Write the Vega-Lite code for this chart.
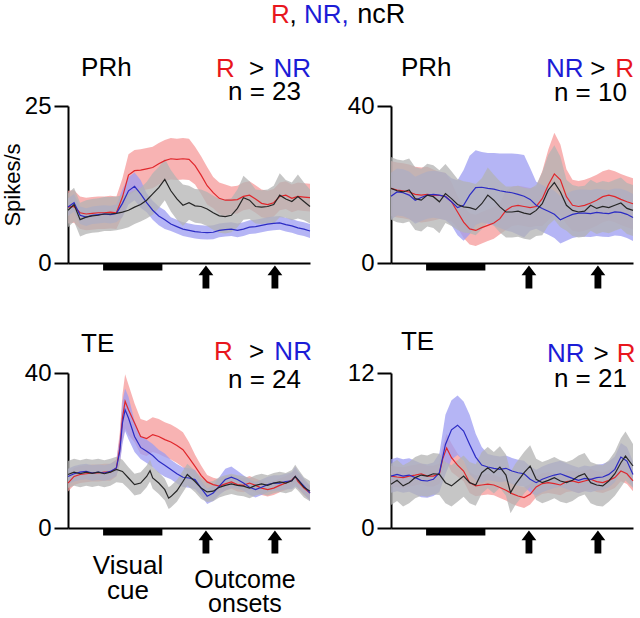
{
"$schema":"https://vega.github.io/schema/vega-lite/v6.json",
"padding":{"left":1,"top":1,"right":0,"bottom":0},
"config":{"view":{"stroke":null},"font":"Liberation Sans",
"axis":{"domainColor":"black","domainWidth":2,"tickColor":"black","tickWidth":2,"labelColor":"black","labelFont":"Liberation Sans","labelFontSize":24,"titleFont":"Liberation Sans","titleFontSize":22,"titleFontWeight":"normal","titleColor":"black","grid":false}},
"datasets":{
"events":[{"kind":"cue","start":14.5,"end":39},{"kind":"outcome","start":57},{"kind":"outcome","start":85.5}],
"TL":[
{"s":"R","t":0,"m":8.9,"e":2.6},{"s":"R","t":2.5,"m":9.0,"e":2.6},{"s":"R","t":5,"m":8.0,"e":2.6},{"s":"R","t":7.5,"m":7.8,"e":2.6},{"s":"R","t":10,"m":7.9,"e":2.6},{"s":"R","t":12.5,"m":8.0,"e":2.6},{"s":"R","t":15,"m":8.0,"e":2.6},{"s":"R","t":17.5,"m":8.1,"e":2.6},{"s":"R","t":20,"m":8.0,"e":2.6},{"s":"R","t":22.5,"m":10.5,"e":3.0},{"s":"R","t":25,"m":14.0,"e":3.3},{"s":"R","t":27.5,"m":14.7,"e":3.3},{"s":"R","t":30,"m":14.8,"e":3.3},{"s":"R","t":32.5,"m":15.0,"e":3.3},{"s":"R","t":35,"m":15.2,"e":3.3},{"s":"R","t":37.5,"m":15.8,"e":3.3},{"s":"R","t":40,"m":16.3,"e":3.3},{"s":"R","t":42.5,"m":16.6,"e":3.3},{"s":"R","t":45,"m":16.5,"e":3.3},{"s":"R","t":47.5,"m":16.6,"e":3.3},{"s":"R","t":50,"m":16.5,"e":3.3},{"s":"R","t":52.5,"m":15.5,"e":3.0},{"s":"R","t":55,"m":14.0,"e":3.0},{"s":"R","t":57.5,"m":12.3,"e":3.0},{"s":"R","t":60,"m":11.2,"e":2.5},{"s":"R","t":62.5,"m":10.3,"e":2.5},{"s":"R","t":65,"m":10.0,"e":2.5},{"s":"R","t":67.5,"m":10.0,"e":2.2},{"s":"R","t":70,"m":10.1,"e":2.2},{"s":"R","t":72.5,"m":10.6,"e":2.2},{"s":"R","t":75,"m":10.8,"e":2.2},{"s":"R","t":77.5,"m":10.2,"e":2.2},{"s":"R","t":80,"m":9.5,"e":2.2},{"s":"R","t":82.5,"m":9.3,"e":2.2},{"s":"R","t":85,"m":9.6,"e":2.2},{"s":"R","t":87.5,"m":10.6,"e":2.2},{"s":"R","t":90,"m":10.8,"e":2.2},{"s":"R","t":92.5,"m":10.3,"e":2.2},{"s":"R","t":95,"m":10.6,"e":2.2},{"s":"R","t":97.5,"m":10.5,"e":2.2},{"s":"R","t":100,"m":10.4,"e":2.2},
{"s":"NR","t":0,"m":8.9,"e":1.4},{"s":"NR","t":2.5,"m":9.6,"e":1.4},{"s":"NR","t":5,"m":7.6,"e":1.4},{"s":"NR","t":7.5,"m":7.3,"e":1.4},{"s":"NR","t":10,"m":7.6,"e":1.4},{"s":"NR","t":12.5,"m":7.7,"e":1.4},{"s":"NR","t":15,"m":7.8,"e":1.4},{"s":"NR","t":17.5,"m":7.7,"e":1.4},{"s":"NR","t":20,"m":7.9,"e":1.4},{"s":"NR","t":22.5,"m":9.5,"e":2.2},{"s":"NR","t":25,"m":11.5,"e":2.2},{"s":"NR","t":27.5,"m":12.2,"e":2.2},{"s":"NR","t":30,"m":11.0,"e":2.2},{"s":"NR","t":32.5,"m":9.6,"e":1.5},{"s":"NR","t":35,"m":8.4,"e":1.5},{"s":"NR","t":37.5,"m":7.5,"e":1.5},{"s":"NR","t":40,"m":6.9,"e":1.5},{"s":"NR","t":42.5,"m":6.2,"e":1.1},{"s":"NR","t":45,"m":5.8,"e":1.1},{"s":"NR","t":47.5,"m":5.4,"e":1.1},{"s":"NR","t":50,"m":5.2,"e":1.1},{"s":"NR","t":52.5,"m":5.0,"e":1.1},{"s":"NR","t":55,"m":4.9,"e":1.1},{"s":"NR","t":57.5,"m":4.85,"e":1.1},{"s":"NR","t":60,"m":4.9,"e":1.1},{"s":"NR","t":62.5,"m":5.2,"e":1.1},{"s":"NR","t":65,"m":5.3,"e":1.1},{"s":"NR","t":67.5,"m":5.4,"e":1.1},{"s":"NR","t":70,"m":5.2,"e":1.1},{"s":"NR","t":72.5,"m":5.4,"e":1.1},{"s":"NR","t":75,"m":5.7,"e":1.1},{"s":"NR","t":77.5,"m":5.8,"e":1.1},{"s":"NR","t":80,"m":6.0,"e":1.1},{"s":"NR","t":82.5,"m":6.2,"e":1.1},{"s":"NR","t":85,"m":6.3,"e":1.1},{"s":"NR","t":87.5,"m":6.4,"e":1.1},{"s":"NR","t":90,"m":6.1,"e":1.1},{"s":"NR","t":92.5,"m":5.9,"e":1.1},{"s":"NR","t":95,"m":5.6,"e":1.1},{"s":"NR","t":97.5,"m":5.4,"e":1.1},{"s":"NR","t":100,"m":5.1,"e":1.1},
{"s":"ncR","t":0,"m":8.4,"e":2.7},{"s":"ncR","t":2.5,"m":9.3,"e":2.7},{"s":"ncR","t":5,"m":6.9,"e":2.7},{"s":"ncR","t":7.5,"m":7.3,"e":2.7},{"s":"ncR","t":10,"m":7.5,"e":2.7},{"s":"ncR","t":12.5,"m":7.6,"e":2.7},{"s":"ncR","t":15,"m":7.8,"e":2.7},{"s":"ncR","t":17.5,"m":7.8,"e":2.7},{"s":"ncR","t":20,"m":7.9,"e":2.7},{"s":"ncR","t":22.5,"m":8.1,"e":2.7},{"s":"ncR","t":25,"m":8.4,"e":2.7},{"s":"ncR","t":27.5,"m":8.9,"e":2.7},{"s":"ncR","t":30,"m":9.3,"e":2.7},{"s":"ncR","t":32.5,"m":10.0,"e":2.9},{"s":"ncR","t":35,"m":11.0,"e":3.3},{"s":"ncR","t":37.5,"m":12.0,"e":3.3},{"s":"ncR","t":40,"m":13.3,"e":3.3},{"s":"ncR","t":42.5,"m":11.5,"e":3.3},{"s":"ncR","t":45,"m":10.2,"e":3.3},{"s":"ncR","t":47.5,"m":9.2,"e":3.3},{"s":"ncR","t":50,"m":9.6,"e":2.7},{"s":"ncR","t":52.5,"m":9.1,"e":2.7},{"s":"ncR","t":55,"m":9.0,"e":2.7},{"s":"ncR","t":57.5,"m":8.6,"e":2.7},{"s":"ncR","t":60,"m":8.0,"e":2.7},{"s":"ncR","t":62.5,"m":7.5,"e":2.7},{"s":"ncR","t":65,"m":7.4,"e":2.7},{"s":"ncR","t":67.5,"m":7.6,"e":2.7},{"s":"ncR","t":70,"m":8.7,"e":3.0},{"s":"ncR","t":72.5,"m":10.4,"e":3.5},{"s":"ncR","t":75,"m":10.0,"e":3.0},{"s":"ncR","t":77.5,"m":9.0,"e":2.7},{"s":"ncR","t":80,"m":8.9,"e":2.7},{"s":"ncR","t":82.5,"m":9.0,"e":2.7},{"s":"ncR","t":85,"m":9.3,"e":3.0},{"s":"ncR","t":87.5,"m":10.8,"e":3.5},{"s":"ncR","t":90,"m":10.2,"e":3.0},{"s":"ncR","t":92.5,"m":9.8,"e":3.0},{"s":"ncR","t":95,"m":10.6,"e":3.5},{"s":"ncR","t":97.5,"m":9.8,"e":3.0},{"s":"ncR","t":100,"m":9.0,"e":2.7}
],
"TR":[
{"s":"R","t":0,"m":19.0,"e":7},{"s":"R","t":2.5,"m":18.6,"e":7},{"s":"R","t":5,"m":18.4,"e":7},{"s":"R","t":7.5,"m":18.1,"e":7},{"s":"R","t":10,"m":17.5,"e":7},{"s":"R","t":12.5,"m":17.3,"e":7},{"s":"R","t":15,"m":17.5,"e":7},{"s":"R","t":17.5,"m":17.3,"e":6.5},{"s":"R","t":20,"m":17.2,"e":6},{"s":"R","t":22.5,"m":17.0,"e":6},{"s":"R","t":25,"m":15.6,"e":5},{"s":"R","t":27.5,"m":13.0,"e":4},{"s":"R","t":30,"m":10.4,"e":4},{"s":"R","t":32.5,"m":8.7,"e":4},{"s":"R","t":35,"m":8.3,"e":4},{"s":"R","t":37.5,"m":9.0,"e":4},{"s":"R","t":40,"m":9.6,"e":4},{"s":"R","t":42.5,"m":10.2,"e":4},{"s":"R","t":45,"m":11.3,"e":4},{"s":"R","t":47.5,"m":13.4,"e":5},{"s":"R","t":50,"m":14.4,"e":5},{"s":"R","t":52.5,"m":14.7,"e":5},{"s":"R","t":55,"m":14.4,"e":5},{"s":"R","t":57.5,"m":14.1,"e":5},{"s":"R","t":60,"m":14.4,"e":5},{"s":"R","t":62.5,"m":16.4,"e":7},{"s":"R","t":65,"m":19.9,"e":9},{"s":"R","t":67.5,"m":22.7,"e":10.5},{"s":"R","t":70,"m":21.2,"e":9},{"s":"R","t":72.5,"m":16.9,"e":7},{"s":"R","t":75,"m":14.7,"e":6.5},{"s":"R","t":77.5,"m":14.4,"e":6.5},{"s":"R","t":80,"m":14.7,"e":6.5},{"s":"R","t":82.5,"m":15.3,"e":6.5},{"s":"R","t":85,"m":16.0,"e":6.5},{"s":"R","t":87.5,"m":16.9,"e":6.5},{"s":"R","t":90,"m":17.3,"e":6.5},{"s":"R","t":92.5,"m":16.9,"e":6.5},{"s":"R","t":95,"m":16.2,"e":6.5},{"s":"R","t":97.5,"m":15.6,"e":6.5},{"s":"R","t":100,"m":15.1,"e":6.5},
{"s":"NR","t":0,"m":17.0,"e":6},{"s":"NR","t":2.5,"m":18.1,"e":6},{"s":"NR","t":5,"m":17.9,"e":6},{"s":"NR","t":7.5,"m":17.3,"e":6},{"s":"NR","t":10,"m":16.0,"e":6},{"s":"NR","t":12.5,"m":16.7,"e":6},{"s":"NR","t":15,"m":17.3,"e":6},{"s":"NR","t":17.5,"m":17.5,"e":6},{"s":"NR","t":20,"m":17.3,"e":6},{"s":"NR","t":22.5,"m":16.9,"e":6},{"s":"NR","t":25,"m":15.6,"e":6},{"s":"NR","t":27.5,"m":14.1,"e":7},{"s":"NR","t":30,"m":14.7,"e":9},{"s":"NR","t":32.5,"m":17.3,"e":10},{"s":"NR","t":35,"m":19.2,"e":9.5},{"s":"NR","t":37.5,"m":19.3,"e":9},{"s":"NR","t":40,"m":19.0,"e":9},{"s":"NR","t":42.5,"m":18.8,"e":9.2},{"s":"NR","t":45,"m":18.4,"e":9.5},{"s":"NR","t":47.5,"m":18.1,"e":9.8},{"s":"NR","t":50,"m":17.9,"e":10},{"s":"NR","t":52.5,"m":17.5,"e":10.3},{"s":"NR","t":55,"m":17.0,"e":10.5},{"s":"NR","t":57.5,"m":16.2,"e":8},{"s":"NR","t":60,"m":14.7,"e":6},{"s":"NR","t":62.5,"m":13.9,"e":6},{"s":"NR","t":65,"m":13.2,"e":6},{"s":"NR","t":67.5,"m":12.4,"e":6},{"s":"NR","t":70,"m":11.0,"e":6},{"s":"NR","t":72.5,"m":11.7,"e":6},{"s":"NR","t":75,"m":12.4,"e":6},{"s":"NR","t":77.5,"m":12.7,"e":6},{"s":"NR","t":80,"m":12.7,"e":6},{"s":"NR","t":82.5,"m":12.6,"e":6},{"s":"NR","t":85,"m":12.9,"e":6},{"s":"NR","t":87.5,"m":12.7,"e":6},{"s":"NR","t":90,"m":12.6,"e":6},{"s":"NR","t":92.5,"m":13.0,"e":6},{"s":"NR","t":95,"m":12.9,"e":6},{"s":"NR","t":97.5,"m":12.4,"e":6},{"s":"NR","t":100,"m":11.6,"e":6},
{"s":"ncR","t":0,"m":19.0,"e":8},{"s":"ncR","t":2.5,"m":18.4,"e":8},{"s":"ncR","t":5,"m":18.1,"e":8},{"s":"ncR","t":7.5,"m":18.6,"e":8},{"s":"ncR","t":10,"m":16.4,"e":8},{"s":"ncR","t":12.5,"m":16.0,"e":8},{"s":"ncR","t":15,"m":17.3,"e":8},{"s":"ncR","t":17.5,"m":16.9,"e":8},{"s":"ncR","t":20,"m":15.6,"e":8},{"s":"ncR","t":22.5,"m":17.7,"e":7.5},{"s":"ncR","t":25,"m":16.4,"e":7},{"s":"ncR","t":27.5,"m":14.9,"e":6.5},{"s":"ncR","t":30,"m":14.3,"e":6.5},{"s":"ncR","t":32.5,"m":14.1,"e":6.5},{"s":"ncR","t":35,"m":13.6,"e":6.5},{"s":"ncR","t":37.5,"m":15.1,"e":6.5},{"s":"ncR","t":40,"m":17.3,"e":7},{"s":"ncR","t":42.5,"m":16.0,"e":6.5},{"s":"ncR","t":45,"m":14.3,"e":6.5},{"s":"ncR","t":47.5,"m":13.0,"e":6.5},{"s":"ncR","t":50,"m":13.0,"e":6.5},{"s":"ncR","t":52.5,"m":13.2,"e":6.5},{"s":"ncR","t":55,"m":12.7,"e":6.5},{"s":"ncR","t":57.5,"m":12.4,"e":6.5},{"s":"ncR","t":60,"m":13.4,"e":6.5},{"s":"ncR","t":62.5,"m":15.1,"e":8},{"s":"ncR","t":65,"m":18.6,"e":9},{"s":"ncR","t":67.5,"m":20.5,"e":9.5},{"s":"ncR","t":70,"m":18.1,"e":9},{"s":"ncR","t":72.5,"m":14.7,"e":6.5},{"s":"ncR","t":75,"m":13.4,"e":6.5},{"s":"ncR","t":77.5,"m":13.0,"e":6.5},{"s":"ncR","t":80,"m":13.2,"e":6.5},{"s":"ncR","t":82.5,"m":14.7,"e":6.5},{"s":"ncR","t":85,"m":13.9,"e":6.5},{"s":"ncR","t":87.5,"m":14.4,"e":6.5},{"s":"ncR","t":90,"m":14.1,"e":6.5},{"s":"ncR","t":92.5,"m":14.7,"e":6.5},{"s":"ncR","t":95,"m":15.3,"e":6.5},{"s":"ncR","t":97.5,"m":13.9,"e":6.5},{"s":"ncR","t":100,"m":13.4,"e":6.5}
],
"BL":[
{"s":"R","t":0,"m":11.6,"e":2.2},{"s":"R","t":2.5,"m":13.3,"e":2.2},{"s":"R","t":5,"m":13.8,"e":2.2},{"s":"R","t":7.5,"m":14.0,"e":2.2},{"s":"R","t":10,"m":14.2,"e":2.2},{"s":"R","t":12.5,"m":14.2,"e":2.2},{"s":"R","t":15,"m":14.4,"e":2.2},{"s":"R","t":17.5,"m":14.4,"e":2.2},{"s":"R","t":20,"m":15.5,"e":2.2},{"s":"R","t":21.4,"m":20.6,"e":4},{"s":"R","t":22.5,"m":28.4,"e":6},{"s":"R","t":23.6,"m":32.7,"e":7},{"s":"R","t":25,"m":30.5,"e":6.5},{"s":"R","t":27.5,"m":27.1,"e":5},{"s":"R","t":30,"m":23.6,"e":4.5},{"s":"R","t":32.5,"m":23.1,"e":4.5},{"s":"R","t":35,"m":24.1,"e":4.5},{"s":"R","t":37.5,"m":23.6,"e":4.5},{"s":"R","t":40,"m":22.8,"e":4.5},{"s":"R","t":42.5,"m":22.2,"e":4.5},{"s":"R","t":45,"m":21.3,"e":4.5},{"s":"R","t":47.5,"m":20.2,"e":4.5},{"s":"R","t":50,"m":18.1,"e":4},{"s":"R","t":52.5,"m":15.9,"e":3},{"s":"R","t":55,"m":13.6,"e":2.5},{"s":"R","t":57.5,"m":11.9,"e":1.8},{"s":"R","t":60,"m":11.2,"e":1.8},{"s":"R","t":62.5,"m":10.8,"e":1.8},{"s":"R","t":65,"m":11.4,"e":1.8},{"s":"R","t":67.5,"m":11.9,"e":1.8},{"s":"R","t":70,"m":11.2,"e":1.8},{"s":"R","t":72.5,"m":11.0,"e":1.8},{"s":"R","t":75,"m":11.6,"e":1.8},{"s":"R","t":77.5,"m":11.0,"e":1.8},{"s":"R","t":80,"m":10.3,"e":1.8},{"s":"R","t":82.5,"m":9.9,"e":1.8},{"s":"R","t":85,"m":10.3,"e":1.8},{"s":"R","t":87.5,"m":11.0,"e":1.8},{"s":"R","t":90,"m":11.6,"e":1.8},{"s":"R","t":92.5,"m":12.4,"e":1.8},{"s":"R","t":93.9,"m":13.3,"e":1.8},{"s":"R","t":95,"m":12.0,"e":1.8},{"s":"R","t":97.5,"m":10.3,"e":1.8},{"s":"R","t":100,"m":9.0,"e":1.8},
{"s":"NR","t":0,"m":13.3,"e":2},{"s":"NR","t":2.5,"m":14.0,"e":2},{"s":"NR","t":5,"m":14.4,"e":2},{"s":"NR","t":7.5,"m":14.6,"e":2},{"s":"NR","t":10,"m":14.2,"e":2},{"s":"NR","t":12.5,"m":14.4,"e":2},{"s":"NR","t":15,"m":14.2,"e":2},{"s":"NR","t":17.5,"m":14.6,"e":2},{"s":"NR","t":20,"m":15.5,"e":2},{"s":"NR","t":21.4,"m":19.8,"e":3.5},{"s":"NR","t":22.5,"m":27.1,"e":5.5},{"s":"NR","t":23.6,"m":30.5,"e":5.5},{"s":"NR","t":25,"m":28.4,"e":5.5},{"s":"NR","t":27.5,"m":23.6,"e":4},{"s":"NR","t":30,"m":20.8,"e":3},{"s":"NR","t":32.5,"m":19.8,"e":3},{"s":"NR","t":35,"m":18.7,"e":3},{"s":"NR","t":37.5,"m":17.2,"e":3},{"s":"NR","t":40,"m":16.2,"e":3},{"s":"NR","t":42.5,"m":15.1,"e":2.5},{"s":"NR","t":45,"m":14.0,"e":2.5},{"s":"NR","t":47.5,"m":13.1,"e":2.5},{"s":"NR","t":50,"m":12.9,"e":2.5},{"s":"NR","t":52.5,"m":12.5,"e":2.5},{"s":"NR","t":55,"m":10.3,"e":2},{"s":"NR","t":57.5,"m":8.2,"e":2},{"s":"NR","t":60,"m":9.0,"e":2},{"s":"NR","t":62.5,"m":10.8,"e":2.3},{"s":"NR","t":65,"m":12.5,"e":2.8},{"s":"NR","t":67.5,"m":13.1,"e":2.8},{"s":"NR","t":70,"m":12.5,"e":2.3},{"s":"NR","t":72.5,"m":11.6,"e":2},{"s":"NR","t":75,"m":10.5,"e":2},{"s":"NR","t":77.5,"m":9.9,"e":2},{"s":"NR","t":80,"m":10.5,"e":2},{"s":"NR","t":82.5,"m":11.2,"e":2},{"s":"NR","t":85,"m":11.6,"e":2},{"s":"NR","t":87.5,"m":11.6,"e":2},{"s":"NR","t":90,"m":12.0,"e":2},{"s":"NR","t":92.5,"m":12.2,"e":2.2},{"s":"NR","t":93.9,"m":13.3,"e":2.6},{"s":"NR","t":95,"m":12.5,"e":2.2},{"s":"NR","t":97.5,"m":10.8,"e":2},{"s":"NR","t":100,"m":9.0,"e":2},
{"s":"ncR","t":0,"m":13.8,"e":3.5},{"s":"ncR","t":2.5,"m":14.4,"e":3.5},{"s":"ncR","t":5,"m":14.0,"e":3.5},{"s":"ncR","t":7.5,"m":14.4,"e":3.5},{"s":"ncR","t":10,"m":14.1,"e":3.5},{"s":"ncR","t":12.5,"m":14.4,"e":3.5},{"s":"ncR","t":15,"m":14.0,"e":3.5},{"s":"ncR","t":17.5,"m":14.4,"e":3.5},{"s":"ncR","t":20,"m":15.1,"e":3.3},{"s":"ncR","t":22.5,"m":14.6,"e":3},{"s":"ncR","t":25,"m":12.9,"e":2.8},{"s":"ncR","t":27.5,"m":11.2,"e":2.8},{"s":"ncR","t":30,"m":11.6,"e":2.8},{"s":"ncR","t":32.5,"m":13.3,"e":2.8},{"s":"ncR","t":33.9,"m":14.8,"e":2.8},{"s":"ncR","t":35,"m":12.9,"e":2.8},{"s":"ncR","t":37.5,"m":11.6,"e":2.8},{"s":"ncR","t":40,"m":9.9,"e":2.8},{"s":"ncR","t":41.6,"m":7.7,"e":2.8},{"s":"ncR","t":42.5,"m":8.1,"e":2.8},{"s":"ncR","t":45,"m":9.6,"e":2.8},{"s":"ncR","t":47.5,"m":12.0,"e":2.8},{"s":"ncR","t":49.3,"m":13.8,"e":2.8},{"s":"ncR","t":52.5,"m":12.0,"e":2.8},{"s":"ncR","t":55,"m":10.3,"e":2.8},{"s":"ncR","t":57.5,"m":9.3,"e":2.6},{"s":"ncR","t":60,"m":9.5,"e":2.6},{"s":"ncR","t":62.5,"m":10.5,"e":2.6},{"s":"ncR","t":65,"m":11.0,"e":2.6},{"s":"ncR","t":67.5,"m":11.4,"e":2.6},{"s":"ncR","t":70,"m":11.0,"e":2.6},{"s":"ncR","t":72.5,"m":10.8,"e":2.6},{"s":"ncR","t":75,"m":10.3,"e":2.6},{"s":"ncR","t":77.5,"m":11.0,"e":2.6},{"s":"ncR","t":80,"m":11.4,"e":2.6},{"s":"ncR","t":82.5,"m":11.0,"e":2.6},{"s":"ncR","t":85,"m":11.6,"e":2.6},{"s":"ncR","t":87.5,"m":11.9,"e":2.6},{"s":"ncR","t":90,"m":11.6,"e":2.6},{"s":"ncR","t":92.5,"m":12.2,"e":2.8},{"s":"ncR","t":93.9,"m":13.3,"e":3},{"s":"ncR","t":95,"m":12.5,"e":2.8},{"s":"ncR","t":97.5,"m":10.5,"e":2.6},{"s":"ncR","t":100,"m":9.5,"e":2.6}
],
"BR":[
{"s":"R","t":0,"m":4.02,"e":0.8},{"s":"R","t":2.5,"m":3.95,"e":0.8},{"s":"R","t":5,"m":3.9,"e":0.8},{"s":"R","t":7.5,"m":4.02,"e":0.8},{"s":"R","t":10,"m":4.1,"e":0.8},{"s":"R","t":12.5,"m":4.2,"e":0.8},{"s":"R","t":15,"m":4.02,"e":0.8},{"s":"R","t":17.5,"m":4.02,"e":0.8},{"s":"R","t":20,"m":4.2,"e":0.8},{"s":"R","t":21.3,"m":5.31,"e":1.0},{"s":"R","t":23,"m":6.2,"e":1.1},{"s":"R","t":25,"m":5.44,"e":1.1},{"s":"R","t":27.5,"m":4.87,"e":0.9},{"s":"R","t":30,"m":4.41,"e":0.8},{"s":"R","t":32.5,"m":3.51,"e":0.8},{"s":"R","t":35,"m":3.26,"e":0.8},{"s":"R","t":37.5,"m":3.33,"e":0.8},{"s":"R","t":40,"m":3.39,"e":0.8},{"s":"R","t":42.5,"m":3.33,"e":0.8},{"s":"R","t":45,"m":3.13,"e":0.8},{"s":"R","t":47.5,"m":2.92,"e":0.8},{"s":"R","t":50,"m":2.66,"e":0.8},{"s":"R","t":52.5,"m":2.48,"e":0.8},{"s":"R","t":55,"m":2.35,"e":0.8},{"s":"R","t":57.5,"m":2.61,"e":0.8},{"s":"R","t":60,"m":3.18,"e":0.8},{"s":"R","t":62.5,"m":3.44,"e":0.8},{"s":"R","t":65,"m":3.51,"e":0.8},{"s":"R","t":67.5,"m":3.44,"e":0.8},{"s":"R","t":70,"m":3.33,"e":0.8},{"s":"R","t":72.5,"m":3.59,"e":0.8},{"s":"R","t":75,"m":3.64,"e":0.8},{"s":"R","t":77.5,"m":3.51,"e":0.8},{"s":"R","t":80,"m":3.64,"e":0.8},{"s":"R","t":82.5,"m":3.77,"e":0.8},{"s":"R","t":85,"m":3.59,"e":0.8},{"s":"R","t":87.5,"m":3.51,"e":0.8},{"s":"R","t":90,"m":3.69,"e":0.8},{"s":"R","t":92.5,"m":3.9,"e":0.8},{"s":"R","t":95,"m":4.41,"e":0.8},{"s":"R","t":97.5,"m":4.2,"e":0.8},{"s":"R","t":100,"m":3.64,"e":0.8},
{"s":"NR","t":0,"m":4.02,"e":1.3},{"s":"NR","t":2.5,"m":4.15,"e":1.3},{"s":"NR","t":5,"m":4.02,"e":1.3},{"s":"NR","t":7.5,"m":4.1,"e":1.3},{"s":"NR","t":10,"m":3.9,"e":1.3},{"s":"NR","t":12.5,"m":3.69,"e":1.3},{"s":"NR","t":15,"m":3.64,"e":1.3},{"s":"NR","t":17.5,"m":3.77,"e":1.3},{"s":"NR","t":20,"m":4.28,"e":1.5},{"s":"NR","t":22.5,"m":6.47,"e":2.3},{"s":"NR","t":25,"m":7.6,"e":2.3},{"s":"NR","t":27.5,"m":7.96,"e":2.3},{"s":"NR","t":30,"m":7.5,"e":2.3},{"s":"NR","t":32.5,"m":6.47,"e":2.3},{"s":"NR","t":35,"m":5.49,"e":1.8},{"s":"NR","t":37.5,"m":4.87,"e":1.4},{"s":"NR","t":40,"m":4.72,"e":1.0},{"s":"NR","t":42.5,"m":4.62,"e":1.0},{"s":"NR","t":45,"m":4.54,"e":1.0},{"s":"NR","t":47.5,"m":4.62,"e":1.0},{"s":"NR","t":50,"m":4.41,"e":1.0},{"s":"NR","t":52.5,"m":4.28,"e":1.0},{"s":"NR","t":55,"m":4.2,"e":1.0},{"s":"NR","t":57.5,"m":3.77,"e":1.0},{"s":"NR","t":60,"m":3.51,"e":1.0},{"s":"NR","t":62.5,"m":3.77,"e":1.0},{"s":"NR","t":65,"m":3.95,"e":1.0},{"s":"NR","t":67.5,"m":4.1,"e":1.0},{"s":"NR","t":70,"m":4.2,"e":1.0},{"s":"NR","t":72.5,"m":4.02,"e":1.0},{"s":"NR","t":75,"m":3.84,"e":1.0},{"s":"NR","t":77.5,"m":3.69,"e":1.0},{"s":"NR","t":80,"m":3.84,"e":1.0},{"s":"NR","t":82.5,"m":3.77,"e":1.0},{"s":"NR","t":85,"m":3.9,"e":1.0},{"s":"NR","t":87.5,"m":3.95,"e":1.0},{"s":"NR","t":90,"m":4.15,"e":1.0},{"s":"NR","t":92.5,"m":4.54,"e":1.0},{"s":"NR","t":95,"m":5.49,"e":1.1},{"s":"NR","t":97.5,"m":5.18,"e":1.1},{"s":"NR","t":100,"m":4.15,"e":1.0},
{"s":"ncR","t":0,"m":3.38,"e":1.6},{"s":"ncR","t":2.5,"m":3.69,"e":1.6},{"s":"ncR","t":5,"m":3.26,"e":1.6},{"s":"ncR","t":7.5,"m":3.51,"e":1.6},{"s":"ncR","t":10,"m":3.9,"e":1.6},{"s":"ncR","t":12.5,"m":4.1,"e":1.6},{"s":"ncR","t":15,"m":4.02,"e":1.6},{"s":"ncR","t":17.5,"m":4.2,"e":1.6},{"s":"ncR","t":20,"m":4.15,"e":1.6},{"s":"ncR","t":22.5,"m":3.51,"e":1.6},{"s":"ncR","t":25,"m":3.26,"e":1.6},{"s":"ncR","t":27.5,"m":3.64,"e":1.6},{"s":"ncR","t":30,"m":4.02,"e":1.6},{"s":"ncR","t":32.5,"m":3.51,"e":1.6},{"s":"ncR","t":35,"m":3.33,"e":1.6},{"s":"ncR","t":37.5,"m":4.28,"e":1.6},{"s":"ncR","t":40,"m":4.67,"e":1.6},{"s":"ncR","t":42.5,"m":4.28,"e":1.6},{"s":"ncR","t":45,"m":4.72,"e":1.6},{"s":"ncR","t":47.5,"m":4.1,"e":1.6},{"s":"ncR","t":49.4,"m":2.74,"e":1.6},{"s":"ncR","t":51.4,"m":3.38,"e":1.6},{"s":"ncR","t":55,"m":4.28,"e":1.6},{"s":"ncR","t":57.5,"m":4.8,"e":1.6},{"s":"ncR","t":60,"m":3.77,"e":1.6},{"s":"ncR","t":62.5,"m":3.51,"e":1.6},{"s":"ncR","t":65,"m":3.69,"e":1.6},{"s":"ncR","t":67.5,"m":3.9,"e":1.6},{"s":"ncR","t":70,"m":3.64,"e":1.6},{"s":"ncR","t":72.5,"m":3.51,"e":1.6},{"s":"ncR","t":75,"m":3.69,"e":1.6},{"s":"ncR","t":77.5,"m":4.02,"e":1.6},{"s":"ncR","t":80,"m":4.2,"e":1.6},{"s":"ncR","t":82.5,"m":3.51,"e":1.6},{"s":"ncR","t":85,"m":3.33,"e":1.6},{"s":"ncR","t":87.5,"m":3.26,"e":1.6},{"s":"ncR","t":90,"m":3.64,"e":1.6},{"s":"ncR","t":92.5,"m":4.2,"e":1.7},{"s":"ncR","t":95,"m":5.05,"e":1.9},{"s":"ncR","t":96.9,"m":5.57,"e":1.9},{"s":"ncR","t":100,"m":4.8,"e":1.7}
]},
"concat":[
{"width":242,"height":157,"data":{"name":"TL"},"resolve":{"scale":{"color":"independent"}},"layer":[
{"mark":{"type":"errorband","borders":false,"band":{"opacity":0.75}},"encoding":{"x":{"field":"t","type":"quantitative","scale":{"domain":[0,100],"nice":false,"zero":false},"axis":{"orient":"bottom","ticks":false,"labels":false,"title":null}},"y":{"field":"m","type":"quantitative","scale":{"domain":[0,25],"nice":false},"axis":{"values":[0,25],"tickSize":14,"labelPadding":3,"title":"Spikes/s","titlePadding":0}},"yError":{"field":"e"},"color":{"field":"s","type":"nominal","scale":{"domain":["R","NR","ncR"],"range":["#f59a9a","#9c9cf2","#b3b3b3"]},"legend":null}}},
{"mark":{"type":"line","strokeWidth":1.2},"encoding":{"x":{"field":"t","type":"quantitative"},"y":{"field":"m","type":"quantitative"},"color":{"field":"s","type":"nominal","scale":{"domain":["R","NR","ncR"],"range":["#e0262b","#2b2bc4","#262626"]},"legend":null}}},
{"data":{"name":"events"},"transform":[{"filter":"datum.kind == 'cue'"}],"mark":{"type":"rule","strokeWidth":7,"color":"black","yOffset":4},"encoding":{"x":{"field":"start","type":"quantitative"},"x2":{"field":"end"},"y":{"datum":0}}},
{"data":{"name":"events"},"transform":[{"filter":"datum.kind == 'outcome'"}],"mark":{"type":"point","shape":"M0,-1L0.65,-0.15L0.3,-0.15L0.3,1L-0.3,1L-0.3,-0.15L-0.65,-0.15Z","size":520,"filled":true,"color":"black","opacity":1,"yOffset":14},"encoding":{"x":{"field":"start","type":"quantitative"},"y":{"datum":0}}},
{"data":{"values":[{}]},"mark":{"type":"text","text":"PRh","align":"left","baseline":"alphabetic","fontSize":26,"color":"black"},"encoding":{"x":{"datum":5.4},"y":{"datum":29.8}}},
{"data":{"values":[{}]},"mark":{"type":"text","text":"R","align":"left","baseline":"alphabetic","fontSize":26,"color":"#e8161d"},"encoding":{"x":{"datum":61.2},"y":{"datum":29.6}}},
{"data":{"values":[{}]},"mark":{"type":"text","text":">","align":"center","baseline":"alphabetic","fontSize":26,"color":"black"},"encoding":{"x":{"datum":77.9},"y":{"datum":29.6}}},
{"data":{"values":[{}]},"mark":{"type":"text","text":"NR","align":"right","baseline":"alphabetic","fontSize":26,"color":"#1c1cd6"},"encoding":{"x":{"datum":100.4},"y":{"datum":29.6}}},
{"data":{"values":[{}]},"mark":{"type":"text","text":"n = 23","align":"right","baseline":"alphabetic","fontSize":26,"color":"black"},"encoding":{"x":{"datum":96.3},"y":{"datum":26.0}}},
{"data":{"values":[{}]},"mark":{"type":"text","text":"R","align":"left","baseline":"alphabetic","fontSize":26,"color":"#e8161d"},"encoding":{"x":{"datum":83.9},"y":{"datum":38.2}}},
{"data":{"values":[{}]},"mark":{"type":"text","text":",","align":"left","baseline":"alphabetic","fontSize":26,"color":"black"},"encoding":{"x":{"datum":91.5},"y":{"datum":38.2}}},
{"data":{"values":[{}]},"mark":{"type":"text","text":"NR,","align":"left","baseline":"alphabetic","fontSize":26,"color":"#1c1cd6"},"encoding":{"x":{"datum":97.5},"y":{"datum":38.2}}},
{"data":{"values":[{}]},"mark":{"type":"text","text":"ncR","align":"left","baseline":"alphabetic","fontSize":27,"color":"black"},"encoding":{"x":{"datum":119.5},"y":{"datum":38.2}}}
]},
{"width":242,"height":157,"data":{"name":"TR"},"resolve":{"scale":{"color":"independent"}},"layer":[
{"mark":{"type":"errorband","borders":false,"band":{"opacity":0.75}},"encoding":{"x":{"field":"t","type":"quantitative","scale":{"domain":[0,100],"nice":false,"zero":false},"axis":{"orient":"bottom","ticks":false,"labels":false,"title":null}},"y":{"field":"m","type":"quantitative","scale":{"domain":[0,40],"nice":false},"axis":{"values":[0,40],"tickSize":14,"labelPadding":3,"title":null}},"yError":{"field":"e"},"color":{"field":"s","type":"nominal","scale":{"domain":["R","NR","ncR"],"range":["#f59a9a","#9c9cf2","#b3b3b3"]},"legend":null}}},
{"mark":{"type":"line","strokeWidth":1.2},"encoding":{"x":{"field":"t","type":"quantitative"},"y":{"field":"m","type":"quantitative"},"color":{"field":"s","type":"nominal","scale":{"domain":["R","NR","ncR"],"range":["#e0262b","#2b2bc4","#262626"]},"legend":null}}},
{"data":{"name":"events"},"transform":[{"filter":"datum.kind == 'cue'"}],"mark":{"type":"rule","strokeWidth":7,"color":"black","yOffset":4},"encoding":{"x":{"field":"start","type":"quantitative"},"x2":{"field":"end"},"y":{"datum":0}}},
{"data":{"name":"events"},"transform":[{"filter":"datum.kind == 'outcome'"}],"mark":{"type":"point","shape":"M0,-1L0.65,-0.15L0.3,-0.15L0.3,1L-0.3,1L-0.3,-0.15L-0.65,-0.15Z","size":520,"filled":true,"color":"black","opacity":1,"yOffset":14},"encoding":{"x":{"field":"start","type":"quantitative"},"y":{"datum":0}}},
{"data":{"values":[{}]},"mark":{"type":"text","text":"PRh","align":"left","baseline":"alphabetic","fontSize":26,"color":"black"},"encoding":{"x":{"datum":4.1},"y":{"datum":47.6}}},
{"data":{"values":[{}]},"mark":{"type":"text","text":"NR","align":"left","baseline":"alphabetic","fontSize":26,"color":"#1c1cd6"},"encoding":{"x":{"datum":64.0},"y":{"datum":47.4}}},
{"data":{"values":[{}]},"mark":{"type":"text","text":">","align":"center","baseline":"alphabetic","fontSize":26,"color":"black"},"encoding":{"x":{"datum":85.5},"y":{"datum":47.4}}},
{"data":{"values":[{}]},"mark":{"type":"text","text":"R","align":"right","baseline":"alphabetic","fontSize":26,"color":"#e8161d"},"encoding":{"x":{"datum":100.4},"y":{"datum":47.4}}},
{"data":{"values":[{}]},"mark":{"type":"text","text":"n = 10","align":"right","baseline":"alphabetic","fontSize":26,"color":"black"},"encoding":{"x":{"datum":97.5},"y":{"datum":41.3}}}
]},
{"width":242,"height":155,"data":{"name":"BL"},"resolve":{"scale":{"color":"independent"}},"layer":[
{"mark":{"type":"errorband","borders":false,"band":{"opacity":0.75}},"encoding":{"x":{"field":"t","type":"quantitative","scale":{"domain":[0,100],"nice":false,"zero":false},"axis":{"orient":"bottom","ticks":false,"labels":false,"title":null}},"y":{"field":"m","type":"quantitative","scale":{"domain":[0,40],"nice":false},"axis":{"values":[0,40],"tickSize":14,"labelPadding":3,"title":null}},"yError":{"field":"e"},"color":{"field":"s","type":"nominal","scale":{"domain":["R","NR","ncR"],"range":["#f59a9a","#9c9cf2","#b3b3b3"]},"legend":null}}},
{"mark":{"type":"line","strokeWidth":1.2},"encoding":{"x":{"field":"t","type":"quantitative"},"y":{"field":"m","type":"quantitative"},"color":{"field":"s","type":"nominal","scale":{"domain":["R","NR","ncR"],"range":["#e0262b","#2b2bc4","#262626"]},"legend":null}}},
{"data":{"name":"events"},"transform":[{"filter":"datum.kind == 'cue'"}],"mark":{"type":"rule","strokeWidth":7,"color":"black","yOffset":4},"encoding":{"x":{"field":"start","type":"quantitative"},"x2":{"field":"end"},"y":{"datum":0}}},
{"data":{"name":"events"},"transform":[{"filter":"datum.kind == 'outcome'"}],"mark":{"type":"point","shape":"M0,-1L0.65,-0.15L0.3,-0.15L0.3,1L-0.3,1L-0.3,-0.15L-0.65,-0.15Z","size":520,"filled":true,"color":"black","opacity":1,"yOffset":14},"encoding":{"x":{"field":"start","type":"quantitative"},"y":{"datum":0}}},
{"data":{"values":[{}]},"mark":{"type":"text","text":"TE","align":"left","baseline":"alphabetic","fontSize":26,"color":"black"},"encoding":{"x":{"datum":5.4},"y":{"datum":45.5}}},
{"data":{"values":[{}]},"mark":{"type":"text","text":"R","align":"left","baseline":"alphabetic","fontSize":26,"color":"#e8161d"},"encoding":{"x":{"datum":60.3},"y":{"datum":43.4}}},
{"data":{"values":[{}]},"mark":{"type":"text","text":">","align":"center","baseline":"alphabetic","fontSize":26,"color":"black"},"encoding":{"x":{"datum":77.9},"y":{"datum":43.4}}},
{"data":{"values":[{}]},"mark":{"type":"text","text":"NR","align":"right","baseline":"alphabetic","fontSize":26,"color":"#1c1cd6"},"encoding":{"x":{"datum":100.8},"y":{"datum":43.4}}},
{"data":{"values":[{}]},"mark":{"type":"text","text":"n = 24","align":"right","baseline":"alphabetic","fontSize":26,"color":"black"},"encoding":{"x":{"datum":96.3},"y":{"datum":36.1}}},
{"data":{"values":[{}]},"mark":{"type":"text","text":["Visual","cue"],"align":"center","baseline":"alphabetic","fontSize":26,"lineHeight":25,"color":"black"},"encoding":{"x":{"datum":24.8},"y":{"datum":-11.9}}},
{"data":{"values":[{}]},"mark":{"type":"text","text":["Outcome","onsets"],"align":"center","baseline":"alphabetic","fontSize":25,"lineHeight":24,"color":"black"},"encoding":{"x":{"datum":73.1},"y":{"datum":-15.5}}}
]},
{"width":242,"height":155,"data":{"name":"BR"},"resolve":{"scale":{"color":"independent"}},"layer":[
{"mark":{"type":"errorband","borders":false,"band":{"opacity":0.75}},"encoding":{"x":{"field":"t","type":"quantitative","scale":{"domain":[0,100],"nice":false,"zero":false},"axis":{"orient":"bottom","ticks":false,"labels":false,"title":null}},"y":{"field":"m","type":"quantitative","scale":{"domain":[0,12],"nice":false},"axis":{"values":[0,12],"tickSize":14,"labelPadding":3,"title":null}},"yError":{"field":"e"},"color":{"field":"s","type":"nominal","scale":{"domain":["R","NR","ncR"],"range":["#f59a9a","#9c9cf2","#b3b3b3"]},"legend":null}}},
{"mark":{"type":"line","strokeWidth":1.2},"encoding":{"x":{"field":"t","type":"quantitative"},"y":{"field":"m","type":"quantitative"},"color":{"field":"s","type":"nominal","scale":{"domain":["R","NR","ncR"],"range":["#e0262b","#2b2bc4","#262626"]},"legend":null}}},
{"data":{"name":"events"},"transform":[{"filter":"datum.kind == 'cue'"}],"mark":{"type":"rule","strokeWidth":7,"color":"black","yOffset":4},"encoding":{"x":{"field":"start","type":"quantitative"},"x2":{"field":"end"},"y":{"datum":0}}},
{"data":{"name":"events"},"transform":[{"filter":"datum.kind == 'outcome'"}],"mark":{"type":"point","shape":"M0,-1L0.65,-0.15L0.3,-0.15L0.3,1L-0.3,1L-0.3,-0.15L-0.65,-0.15Z","size":520,"filled":true,"color":"black","opacity":1,"yOffset":14},"encoding":{"x":{"field":"start","type":"quantitative"},"y":{"datum":0}}},
{"data":{"values":[{}]},"mark":{"type":"text","text":"TE","align":"left","baseline":"alphabetic","fontSize":26,"color":"black"},"encoding":{"x":{"datum":4.1},"y":{"datum":13.78}}},
{"data":{"values":[{}]},"mark":{"type":"text","text":"NR","align":"left","baseline":"alphabetic","fontSize":26,"color":"#1c1cd6"},"encoding":{"x":{"datum":64.5},"y":{"datum":12.87}}},
{"data":{"values":[{}]},"mark":{"type":"text","text":">","align":"center","baseline":"alphabetic","fontSize":26,"color":"black"},"encoding":{"x":{"datum":86.8},"y":{"datum":12.87}}},
{"data":{"values":[{}]},"mark":{"type":"text","text":"R","align":"right","baseline":"alphabetic","fontSize":26,"color":"#e8161d"},"encoding":{"x":{"datum":101.0},"y":{"datum":12.87}}},
{"data":{"values":[{}]},"mark":{"type":"text","text":"n = 21","align":"right","baseline":"alphabetic","fontSize":26,"color":"black"},"encoding":{"x":{"datum":97.5},"y":{"datum":10.94}}}
]}
],
"columns":2,
"spacing":{"row":110,"column":81},
"bounds":"flush"
}
